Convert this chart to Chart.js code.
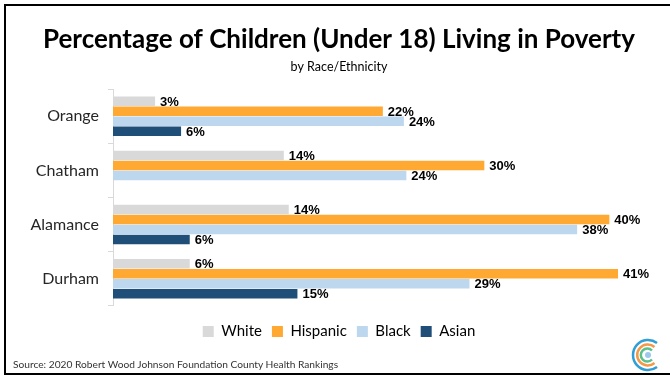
<!DOCTYPE html>
<html>
<head>
<meta charset="utf-8">
<script src="https://cdn.jsdelivr.net/npm/chart.js@4.4.1/dist/chart.umd.min.js"></script>
<style>
  body { margin: 0; background: #fff; }
  #wrap { position: relative; width: 670px; height: 380px; overflow: hidden; }
  #frame { position: absolute; left: 4px; top: 4px; width: 700px; height: 367px;
           border-top: 2px solid #000; border-left: 2px solid #000; border-bottom: 2px solid #000; }
  #source { position: absolute; left: 13px; top: 358px; font: 10.2px Lato, sans-serif; color: #333; }
  #logo { position: absolute; left: 630px; top: 336px; }
</style>
</head>
<body>
<div id="wrap">
  <canvas id="povertyChart" width="670" height="380"></canvas>
  <div id="frame"></div>
  <div id="source">Source: 2020 Robert Wood Johnson Foundation County Health Rankings</div>
  <svg id="logo" width="34" height="38" viewBox="0 0 34 38">
    <path d="M 27 7 A 15 15 0 1 0 27 31" fill="none" stroke="#2f9fd6" stroke-width="2.5"/>
    <path d="M 24.5 11 A 10.5 10.5 0 1 0 24.5 27" fill="none" stroke="#f2994a" stroke-width="2.5"/>
    <path d="M 22 14.5 A 6.5 6.5 0 1 0 22 23.5" fill="none" stroke="#5cc08a" stroke-width="2.5"/>
    <circle cx="18" cy="19" r="3" fill="#9cc8ee"/>
  </svg>
</div>
<script>
// values; labels show them rounded
const counties = ['Orange', 'Chatham', 'Alamance', 'Durham'];
const white = [3.4, 13.8, 14.2, 6.2];
const hispanic = [21.8, 30.0, 40.1, 40.8];
const black = [23.5, 23.7, 37.5, 28.8];
const asian = [5.5, null, 6.2, 14.9];

const barLabels = {
    id: 'barLabels',
    afterDatasetsDraw(chart) {
        const ctx = chart.ctx;
        ctx.save();
        ctx.font = 'bold 13px "Liberation Sans", Arial, sans-serif';
        ctx.fillStyle = '#000';
        ctx.textBaseline = 'middle';
        ctx.textAlign = 'left';
        chart.data.datasets.forEach((ds, i) => {
            chart.getDatasetMeta(i).data.forEach((bar, j) => {
                if (ds.data[j] == null) return;
                ctx.fillText(Math.round(ds.data[j]) + '%', bar.x + 5, bar.y + 1);
            });
        });
        ctx.restore();
    }
};

new Chart(document.getElementById('povertyChart'), {
    type: 'bar',
    data: {
        labels: counties,
        datasets: [
            { label: 'White', data: white, backgroundColor: '#d9d9d9' },
            { label: 'Hispanic', data: hispanic, backgroundColor: '#ffa933' },
            { label: 'Black', data: black, backgroundColor: '#bdd7ee' },
            { label: 'Asian', data: asian, backgroundColor: '#1f4e79' }
        ]
    },
    options: {
        indexAxis: 'y',
        responsive: false,
        animation: false,
        datasets: { bar: { barPercentage: 0.95, categoryPercentage: 0.74 } },
        layout: { padding: { top: 18, right: 0, bottom: 31, left: 8 } },
        scales: {
            x: {
                min: 0, max: 45,
                grid: { display: false, drawTicks: false },
                border: { display: false },
                ticks: { display: false },
                // empty title only to leave a gap above the legend
                title: { display: true, text: '', font: { size: 1 }, padding: { top: 7, bottom: 0 } }
            },
            y: {
                afterFit(scale) { scale.width = 105; },
                grid: { offset: true, drawOnChartArea: false, tickLength: 5, color: '#d9d9d9' },
                border: { display: true, color: '#d9d9d9' },
                ticks: { padding: 9, color: '#262626', font: { family: 'Lato', size: 16 } }
            }
        },
        plugins: {
            title: {
                display: true,
                text: 'Percentage of Children (Under 18) Living in Poverty',
                color: '#000',
                font: { family: 'Lato', size: 26, weight: 'bold' },
                padding: { top: 6, bottom: 4 }
            },
            subtitle: {
                display: true,
                text: 'by Race/Ethnicity',
                color: '#000',
                font: { family: 'Lato', size: 12.5 },
                padding: { top: 0, bottom: 15 }
            },
            legend: {
                position: 'bottom',
                labels: { boxWidth: 11, boxHeight: 11, padding: 10, color: '#000', font: { family: 'Lato', size: 15 } }
            },
            tooltip: { enabled: false }
        }
    },
    plugins: [barLabels]
});
</script>
</body>
</html>
